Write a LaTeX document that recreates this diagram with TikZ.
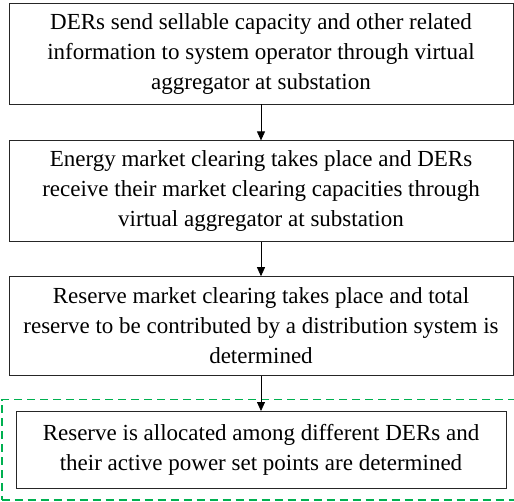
\documentclass[tikz,border=0pt]{standalone}
\usepackage{fontspec}
\setmainfont{Liberation Serif}
\newfontfamily\flowfont{Liberation Serif}
\usetikzlibrary{positioning,arrows.meta,fit}
\definecolor{dashgreen}{RGB}{0,176,80}

\begin{document}
\begin{tikzpicture}[
  x=1pt, y=1pt,
  font=\flowfont\fontsize{23}{30}\selectfont,
  line/.style={-{Triangle[width=8pt,length=9pt]}, line width=0.8pt, draw=black},
  stepbox/.style={draw=black!85, line width=0.8pt, align=center, inner sep=4pt, minimum width=504pt, minimum height=101pt},
  lastbox/.style={stepbox, minimum width=490pt, minimum height=77pt},
  groupbox/.style={draw=dashgreen, dash pattern=on 8pt off 5pt, line width=1.8pt, inner xsep=14pt, inner ysep=11.5pt}
]
\useasboundingbox (0,0) rectangle (514,-501);

% ========== Steps (vertical) ==========
\node[stepbox] (s1) at (261,-53.5)
{DERs send sellable capacity and other related\\
information to system operator through virtual\\
aggregator at substation};

\node[stepbox, below=36pt of s1] (s2)
{Energy market clearing takes place and DERs\\
receive their market clearing capacities through\\
virtual aggregator at substation};

\node[stepbox, below=34pt of s2, minimum height=99pt] (s3)
{Reserve market clearing takes place and total\\
reserve to be contributed by a distribution system is\\
determined};

\node[lastbox, below=35pt of s3] (s4)
{Reserve is allocated among different DERs and\\
their active power set points are determined};

% ========== Dashed group round the last step ==========
\node[groupbox, fit=(s4)] (grp) {};

% ========== Arrows ==========
\draw[line] (s1) -- (s2);
\draw[line] (s2) -- (s3);
\draw[line] (s3) -- (s4);

\end{tikzpicture}
\end{document}
